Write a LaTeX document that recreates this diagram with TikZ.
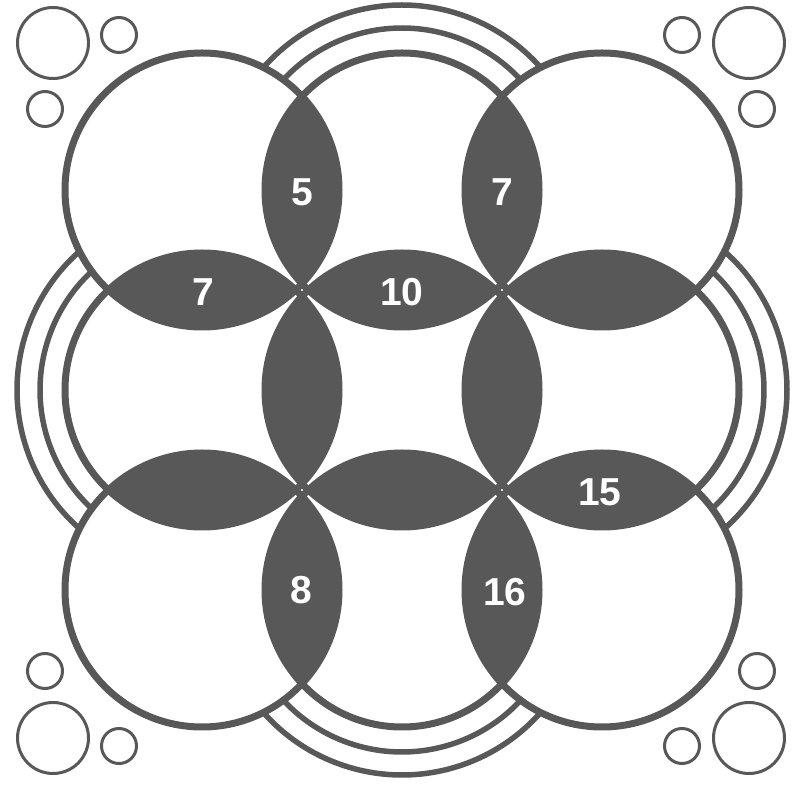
\documentclass[tikz,border=0pt]{standalone}
\usepackage{fontspec}
\setmainfont{Liberation Sans}
\definecolor{dg}{RGB}{88,88,88}
\begin{document}
\begin{tikzpicture}[x=1pt,y=1pt,
  ring/.style={draw=dg, line width=7pt},
  band/.style={draw=dg, line width=5.5pt},
  bubble/.style={draw=dg, line width=3pt},
  lens/.style={fill=dg},
  num/.style={text=white, font=\fontsize{39}{39}\selectfont\bfseries, inner sep=0pt}]
\useasboundingbox (0,0) rectangle (807,785);
\fill[white] (0,0) rectangle (807,785);
\def\R{137}
\foreach \i/\x in {1/202,2/402,3/602}{
  \foreach \j/\y in {1/595,2/395,3/195}{
    \coordinate (c\i\j) at (\x,\y);
  }
}
% lenses
\foreach \a/\b in {c11/c21,c21/c31,c12/c22,c22/c32,c13/c23,c23/c33,
                   c11/c12,c12/c13,c21/c22,c22/c23,c31/c32,c32/c33}{
  \begin{scope}
    \clip (\a) circle (\R);
    \fill[lens] (\b) circle (\R);
  \end{scope}
}
% circles
\foreach \c in {c11,c21,c31,c12,c22,c32,c13,c23,c33}{
  \draw[ring] (\c) circle (\R);
}
% concentric bands
\foreach \Rr/\t in {162/42.9,185/41.5}{
  \draw[band] ([shift={(\t:\Rr)}]c21) arc[start angle=\t, end angle=180-\t, radius=\Rr];
  \draw[band] ([shift={(90+\t:\Rr)}]c12) arc[start angle=90+\t, end angle=270-\t, radius=\Rr];
  \draw[band] ([shift={(180+\t:\Rr)}]c23) arc[start angle=180+\t, end angle=360-\t, radius=\Rr];
  \draw[band] ([shift={(-90+\t:\Rr)}]c32) arc[start angle=-90+\t, end angle=90-\t, radius=\Rr];
}
% corner bubbles
\foreach \x/\y/\r in {53/742/35.5, 119/750/17.5, 45/676/17.5,
                      749/742/35.5, 682/750/17.5, 757/676/17.5,
                      53/47/35.5, 119/39/17.5, 45/114/17.5,
                      749/47/35.5, 682/39/17.5, 757/114/17.5}{
  \draw[bubble] (\x,\y) circle (\r);
}
% labels
\node[num] (n5) at (302,593) {5};
\node[num] (n7a) at (502,593) {7};
\node[num] (n7b) at (203,493) {7};
\node[num] (n10) at (402,493) {10};
\node[num] (n15) at (600,293) {15};
\node[num] (n8) at (301,195) {8};
\node[num] (n16) at (505,193) {16};
\end{tikzpicture}
\end{document}
